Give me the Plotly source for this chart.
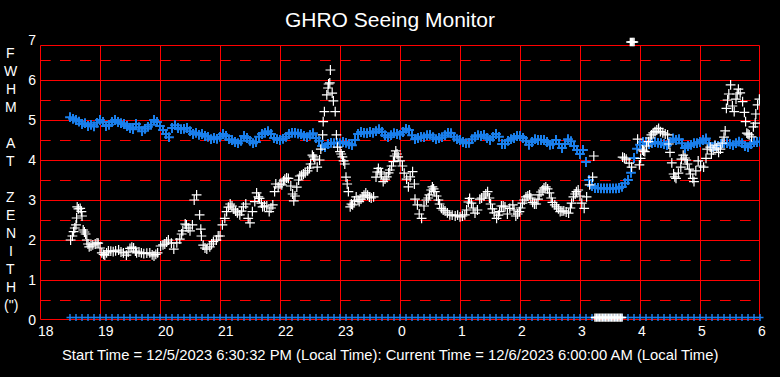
import plotly.graph_objects as go

# ---------------- data ----------------
tick_vals = list(range(18, 31))
tick_text = ["18", "19", "20", "21", "22", "23", "0", "1", "2", "3", "4", "5", "6"]
y_ticks = [0, 1, 2, 3, 4, 5, 6, 7]

# blue series: sampled every 0.05 h starting 18.50
blue_start = 18.5
blue_step = 0.05
blue_y = [
    5.07, 5.03, 5.00, 4.96, 4.90, 4.92, 4.85, 4.88, 4.84, 4.93,
    5.00, 4.95, 4.85, 4.88, 4.95, 5.00, 4.95, 4.92, 4.90, 4.85,
    4.80, 4.77, 4.90, 4.82, 4.72, 4.78, 4.83, 4.88, 5.00, 4.95,
    4.85, 4.75, 4.65, 4.57, 4.80, 4.87, 4.80, 4.77, 4.78, 4.80,
    4.72, 4.65, 4.68, 4.63, 4.65, 4.60, 4.58, 4.52, 4.55, 4.53,
    4.58, 4.65, 4.60, 4.52, 4.50, 4.45, 4.42, 4.48, 4.60, 4.55,
    4.48, 4.42, 4.45, 4.58, 4.65, 4.68, 4.72, 4.65, 4.55, 4.52,
    4.50, 4.53, 4.58, 4.65, 4.68, 4.68, 4.66, 4.65, 4.60, 4.57,
    4.63, 4.67, 4.55, 4.48, 4.35, 4.32, 4.40, 4.43, 4.42, 4.43,
    4.42, 4.45, 4.43, 4.40, 4.37, 4.50, 4.65, 4.70, 4.68, 4.67,
    4.70, 4.68, 4.72, 4.77, 4.70, 4.62, 4.57, 4.62, 4.67, 4.65,
    4.63, 4.70, 4.78, 4.75, 4.62, 4.52, 4.55, 4.58, 4.57, 4.62,
    4.63, 4.57, 4.52, 4.55, 4.57, 4.62, 4.68, 4.67, 4.58, 4.52,
    4.50, 4.45, 4.42, 4.43, 4.52, 4.58, 4.62, 4.60, 4.63, 4.55,
    4.50, 4.58, 4.65, 4.58, 4.40, 4.40, 4.48, 4.52, 4.55, 4.60,
    4.60, 4.55, 4.48, 4.38, 4.45, 4.52, 4.50, 4.50, 4.50, 4.45,
    4.38, 4.40, 4.50, 4.40, 4.30, 4.40, 4.52, 4.47, 4.35, 4.25,
    4.15, 4.25, 3.95, 3.50, 3.35, 3.30, 3.30, 3.29, 3.29, 3.29,
    3.29, 3.29, 3.29, 3.30, 3.33, 3.42, 3.50, 3.68, 4.05, 4.28,
    4.38, 4.45, 4.45, 4.40, 4.42, 4.45, 4.43, 4.42, 4.40, 4.37,
    4.45, 4.54, 4.50, 4.52, 4.42, 4.30, 4.35, 4.38, 4.42, 4.42,
    4.45, 4.50, 4.54, 4.42, 4.32, 4.35, 4.35, 4.40, 4.42, 4.42,
    4.40, 4.37, 4.42, 4.46, 4.42, 4.35, 4.32, 4.40, 4.45, 4.45,
    4.46,
]
blue_x = [round(blue_start + blue_step * i, 2) for i in range(len(blue_y))]

# blue "no data" row along the bottom (one every 0.1 h)
blue_zero_x = [round(18.5 + 0.1 * i, 1) for i in range(116)]
blue_zero_y = [0.06] * len(blue_zero_x)

# white series
white_x = [
    18.51, 18.54, 18.56, 18.58, 18.60, 18.61, 18.62, 18.64, 18.67, 18.69,
    18.70, 18.72, 18.74, 18.76, 18.78, 18.80, 18.82, 18.85, 18.88, 18.92,
    18.95, 18.97, 19.00, 19.03, 19.06, 19.08, 19.11, 19.14, 19.18, 19.22,
    19.26, 19.31, 19.35, 19.39, 19.44, 19.47, 19.50, 19.53, 19.56, 19.59,
    19.61, 19.65, 19.69, 19.73, 19.78, 19.83, 19.87, 19.90, 19.93, 19.96,
    20.01, 20.05, 20.08, 20.11, 20.14, 20.19, 20.23, 20.28, 20.33, 20.36,
    20.38, 20.42, 20.44, 20.47, 20.50, 20.54, 20.57, 20.61, 20.66, 20.68,
    20.69, 20.72, 20.75, 20.78, 20.83, 20.86, 20.89, 20.94, 20.97, 21.00,
    21.04, 21.08, 21.11, 21.14, 21.17, 21.20, 21.23, 21.26, 21.29, 21.33,
    21.36, 21.39, 21.43, 21.47, 21.50, 21.54, 21.58, 21.61, 21.64, 21.66,
    21.69, 21.71, 21.74, 21.78, 21.82, 21.85, 21.88, 21.91, 21.93, 21.97,
    22.00, 22.03, 22.06, 22.08, 22.11, 22.14, 22.18, 22.21, 22.23, 22.25,
    22.28, 22.31, 22.33, 22.36, 22.39, 22.42, 22.46, 22.49, 22.51, 22.54,
    22.56, 22.58, 22.62, 22.66, 22.68, 22.71, 22.72, 22.74, 22.78, 22.80,
    22.81, 22.83, 22.84, 22.87, 22.89, 22.92, 22.94, 22.96, 23.00, 23.02,
    23.04, 23.06, 23.08, 23.10, 23.12, 23.14, 23.17, 23.19, 23.21, 23.24,
    23.27, 23.30, 23.32, 23.35, 23.38, 23.40, 23.43, 23.46, 23.49, 23.52,
    23.56, 23.60, 23.62, 23.64, 23.67, 23.69, 23.72, 23.75, 23.78, 23.81,
    23.83, 23.86, 23.89, 23.91, 23.93, 23.95, 23.97, 24.00, 24.04, 24.07,
    24.11, 24.14, 24.17, 24.21, 24.24, 24.25, 24.29, 24.32, 24.36, 24.40,
    24.44, 24.47, 24.49, 24.52, 24.54, 24.56, 24.58, 24.61, 24.64, 24.66,
    24.69, 24.72, 24.75, 24.79, 24.83, 24.87, 24.92, 24.96, 25.00, 25.04,
    25.08, 25.11, 25.14, 25.16, 25.19, 25.22, 25.25, 25.29, 25.33, 25.36,
    25.40, 25.43, 25.46, 25.49, 25.51, 25.54, 25.57, 25.61, 25.64, 25.66,
    25.69, 25.72, 25.75, 25.79, 25.83, 25.88, 25.90, 25.93, 25.96, 25.99,
    26.01, 26.04, 26.07, 26.10, 26.13, 26.16, 26.18, 26.21, 26.24, 26.27,
    26.30, 26.32, 26.35, 26.38, 26.40, 26.43, 26.46, 26.49, 26.52, 26.54,
    26.58, 26.61, 26.64, 26.67, 26.70, 26.73, 26.77, 26.81, 26.84, 26.86,
    26.89, 26.92, 26.94, 26.97, 27.00, 27.03, 27.07, 27.11, 27.16, 27.21,
    27.23, 27.71, 27.74, 27.77, 27.82, 27.86, 27.96, 27.99, 28.01, 28.04,
    28.06, 28.08, 28.11, 28.14, 28.17, 28.19, 28.22, 28.25, 28.28, 28.31,
    28.34, 28.38, 28.42, 28.46, 28.48, 28.50, 28.53, 28.56, 28.58, 28.60,
    28.64, 28.68, 28.69, 28.72, 28.75, 28.77, 28.79, 28.82, 28.84, 28.88,
    28.90, 28.93, 28.97, 29.01, 29.06, 29.10, 29.12, 29.17, 29.19, 29.22,
    29.25, 29.28, 29.31, 29.34, 29.37, 29.40, 29.42, 29.44, 29.46, 29.48,
    29.51, 29.54, 29.57, 29.60, 29.62, 29.64, 29.67, 29.71, 29.74, 29.76,
    29.78, 29.80, 29.82, 29.86, 29.89, 29.92, 29.93, 29.96, 29.99,
]
white_y = [
    2.00, 2.10, 2.21, 2.30, 2.38, 2.55, 2.83, 2.78, 2.79, 2.71,
    2.60, 2.25, 2.20, 2.15, 2.00, 1.90, 1.83, 1.85, 1.88, 1.90,
    1.93, 1.92, 1.80, 1.68, 1.64, 1.62, 1.68, 1.73, 1.72, 1.71,
    1.73, 1.75, 1.70, 1.68, 1.62, 1.70, 1.79, 1.82, 1.80, 1.72,
    1.68, 1.70, 1.68, 1.66, 1.67, 1.68, 1.63, 1.60, 1.64, 1.68,
    1.85, 1.88, 1.90, 1.95, 2.00, 1.92, 1.77, 1.93, 2.02, 2.15,
    2.23, 2.40, 2.38, 2.30, 2.23, 2.38, 3.00, 3.13, 2.63, 2.27,
    2.10, 1.87, 1.80, 1.77, 1.83, 1.90, 1.96, 2.00, 2.10, 2.10,
    2.38, 2.54, 2.71, 2.82, 2.90, 2.85, 2.77, 2.72, 2.68, 2.63,
    2.72, 2.83, 2.90, 2.54, 2.43, 2.71, 2.96, 3.18, 3.08, 3.04,
    2.92, 2.83, 2.85, 2.85, 2.71, 2.80, 2.88, 3.21, 3.40, 3.33,
    3.40, 3.38, 3.48, 3.52, 3.55, 3.54, 3.35, 3.15, 2.98, 3.10,
    3.32, 3.50, 3.60, 3.62, 3.65, 3.68, 3.73, 3.80, 3.90, 4.12,
    4.08, 4.02, 3.82, 4.00, 4.27, 4.63, 4.96, 5.21, 5.63, 5.80,
    5.90, 5.93, 6.25, 5.67, 5.48, 5.21, 4.63, 4.32, 4.21, 4.15,
    4.08, 3.98, 3.90, 3.57, 3.40, 3.21, 2.83, 2.90, 2.88, 2.98,
    3.08, 3.00, 2.96, 3.02, 3.08, 3.12, 3.18, 3.12, 3.07, 3.05,
    3.08, 3.57, 3.70, 3.79, 3.70, 3.65, 3.46, 3.52, 3.58, 3.68,
    3.75, 3.85, 3.96, 4.10, 4.23, 4.15, 4.08, 3.98, 3.85, 3.67,
    3.52, 3.33, 3.58, 3.71, 3.40, 3.02, 2.88, 2.65, 2.54, 2.85,
    3.00, 3.05, 3.13, 3.25, 3.33, 3.28, 3.21, 3.10, 3.00, 2.90,
    2.79, 2.75, 2.73, 2.68, 2.63, 2.62, 2.60, 2.62, 2.58, 2.60,
    2.63, 2.75, 2.95, 3.04, 2.92, 2.80, 2.67, 2.75, 3.02, 3.05,
    3.10, 3.15, 3.21, 3.05, 2.90, 2.78, 2.68, 2.54, 2.62, 2.71,
    2.85, 2.85, 2.83, 2.65, 2.79, 2.88, 2.75, 2.60, 2.65, 2.71,
    2.80, 2.92, 3.00, 3.08, 3.10, 3.13, 3.05, 2.94, 2.90, 2.90,
    3.02, 3.13, 3.20, 3.25, 3.30, 3.33, 3.28, 3.18, 3.05, 2.94,
    2.88, 2.83, 2.78, 2.71, 2.72, 2.73, 2.70, 2.67, 2.80, 2.92,
    3.08, 3.15, 3.21, 3.25, 3.10, 2.92, 2.79, 3.08, 3.38, 3.57,
    4.10, 4.07, 4.05, 4.02, 3.92, 3.82, 4.52, 3.88, 4.04, 4.25,
    4.22, 4.21, 4.35, 4.46, 4.55, 4.63, 4.68, 4.71, 4.75, 4.79,
    4.71, 4.68, 4.65, 4.63, 4.40, 4.19, 3.93, 3.65, 3.58, 3.54,
    3.67, 3.82, 4.02, 4.12, 4.05, 4.00, 3.90, 3.77, 3.65, 3.54,
    3.46, 3.73, 3.98, 3.85, 3.82, 4.04, 4.27, 4.32, 4.15, 4.25,
    4.37, 4.30, 4.19, 4.27, 4.42, 4.57, 4.73, 5.29, 5.50, 5.65,
    5.88, 5.35, 5.21, 5.52, 5.65, 5.77, 5.68, 5.46, 5.19, 4.96,
    4.67, 4.65, 4.63, 4.58, 4.83, 4.92, 5.15, 5.38, 5.52,
]

# white "no data" markers at the bottom and off-scale markers at the top
white_zero_x = [27.25, 27.275, 27.30, 27.325, 27.35, 27.375, 27.40, 27.425, 27.45,
                27.475, 27.50, 27.525, 27.55, 27.575, 27.60, 27.625, 27.65, 27.675, 27.70]
white_zero_y = [0.06] * len(white_zero_x)
white_top_x = [27.84, 27.86, 27.88, 27.90]
white_top_y = [6.95, 6.95, 6.95, 6.95]

# ---------------- figure ----------------
BLUE = "#1a7fec"
RED = "#ff0000"
FONT = "Liberation Sans, Arial, sans-serif"

fig = go.Figure()

fig.add_trace(go.Scatter(
    x=blue_zero_x, y=blue_zero_y, mode="markers", cliponaxis=False,
    marker=dict(symbol="cross-thin", size=5, line=dict(color=BLUE, width=1.5)),
    hoverinfo="skip", showlegend=False))
fig.add_trace(go.Scatter(
    x=white_zero_x, y=white_zero_y, mode="markers", cliponaxis=False,
    marker=dict(symbol="cross-thin", size=6, line=dict(color="white", width=1.5)),
    hoverinfo="skip", showlegend=False))
fig.add_trace(go.Scatter(
    x=white_top_x, y=white_top_y, mode="markers", cliponaxis=False,
    marker=dict(symbol="cross-thin", size=6, line=dict(color="white", width=1.5)),
    hoverinfo="skip", showlegend=False))
fig.add_trace(go.Scatter(
    x=blue_x, y=blue_y, mode="markers",
    marker=dict(symbol="cross-thin", size=7, line=dict(color=BLUE, width=2)),
    showlegend=False))
fig.add_trace(go.Scatter(
    x=white_x, y=white_y, mode="markers",
    marker=dict(symbol="cross-thin", size=7, line=dict(color="white", width=1.2)),
    showlegend=False))

# half-pixel offsets so 1px lines render crisp
DY = 0.5 / 40.0
DX = 0.5 / 60.0
PW, PH = 720.0, 280.0
TOP = (320 - 45.5) / PH  # frame top (paper units)

shapes = []
for v in range(1, 7):
    shapes.append(dict(type="line", xref="paper", yref="y", x0=0, x1=1, y0=v - DY, y1=v - DY,
                       line=dict(color=RED, width=1), layer="below"))
for k in range(0, 7):
    h = k + 0.5 - DY
    shapes.append(dict(type="line", xref="paper", yref="y", x0=0, x1=1, y0=h, y1=h,
                       line=dict(color=RED, width=1, dash="10.7px,9.3px"), layer="below"))
for v in range(19, 30):
    shapes.append(dict(type="line", xref="x", yref="paper", x0=v + DX, x1=v + DX, y0=0, y1=TOP,
                       line=dict(color=RED, width=1), layer="below"))
# frame
L, R, B = 0.5 / PW, 1 - 0.5 / PW, 0.5 / PH
for (x0, y0, x1, y1) in [(L, B, R, B), (L, TOP, R, TOP), (L, B, L, TOP), (R, B, R, TOP)]:
    shapes.append(dict(type="line", xref="paper", yref="paper", x0=x0, y0=y0, x1=x1, y1=y1,
                       line=dict(color=RED, width=1), layer="below"))

annotations = []
# x tick labels: left-aligned just before each hour line, as in the reference
for v, t in zip(tick_vals, tick_text):
    annotations.append(dict(text=t, xref="x", yref="paper", x=v, xshift=-4,
                            y=(320 - 330.5) / PH, xanchor="left", yanchor="middle",
                            showarrow=False, font=dict(color="white", size=14, family=FONT)))

letters = ["F", "W", "H", "M", "A", "T", "Z", "E", "N", "I", "T", "H", "(\")"]
letter_py = [53, 71, 89, 107, 143, 161, 197, 215, 233, 251, 269, 287, 305]
for ch, py in zip(letters, letter_py):
    annotations.append(dict(text=ch, xref="paper", yref="paper",
                            x=(11 - 40) / PW, y=(320 - py) / PH,
                            xanchor="center", yanchor="middle", showarrow=False,
                            font=dict(color="white", size=14, family=FONT)))
annotations.append(dict(
    text="Start Time = 12/5/2023 6:30:32 PM (Local Time): Current Time = 12/6/2023 6:00:00 AM (Local Time)",
    xref="paper", yref="paper", x=(390 - 40) / PW, y=(320 - 355) / PH,
    xanchor="center", yanchor="middle", showarrow=False,
    font=dict(color="white", size=14.8, family=FONT)))

fig.update_layout(
    width=780, height=377,
    margin=dict(l=40, r=20, t=40, b=57, autoexpand=False),
    paper_bgcolor="black", plot_bgcolor="black",
    title=dict(text="GHRO Seeing Monitor", x=0.5, xanchor="center",
               y=1 - 20 / 377, yanchor="middle", yref="container",
               font=dict(color="white", size=21, family=FONT)),
    xaxis=dict(range=[18, 30], tickvals=tick_vals, showticklabels=False,
               showgrid=False, zeroline=False, showline=False, ticks=""),
    yaxis=dict(range=[0, 7], tickvals=y_ticks, showgrid=False, zeroline=False,
               showline=False, ticks="", ticklabelstandoff=3,
               tickfont=dict(color="white", size=14, family=FONT)),
    shapes=shapes, annotations=annotations,
)

fig.write_html("out.html", config={"displayModeBar": False},
               post_script="document.body.style.margin='0px';")
